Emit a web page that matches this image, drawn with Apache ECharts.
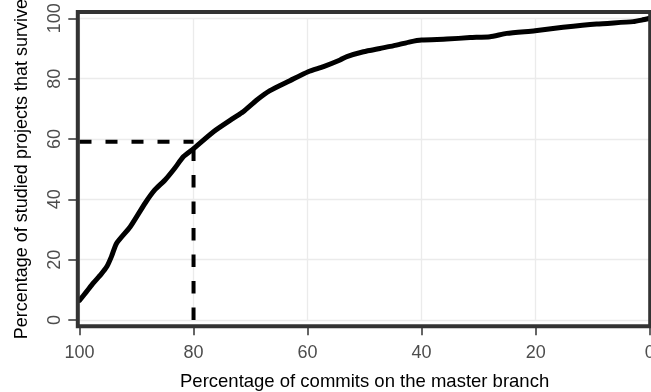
<!DOCTYPE html>
<html>
<head>
<meta charset="utf-8">
<script src="https://cdn.jsdelivr.net/npm/echarts@6/dist/echarts.min.js"></script>
<style>
html,body{margin:0;padding:0;background:#fff;}
#c{width:651px;height:392px;}
</style>
</head>
<body>
<div id="c"></div>
<script>
// Survival curve: x = percentage of commits on master, y = percentage of projects surviving
const commitPct = [100, 98.8, 97.6, 96.2, 95.2, 94.4, 93.5, 91.1, 88.5, 86.8, 85.0, 83.3, 81.8, 80.0, 76.5, 73.0, 71.3, 68.9, 66.6, 63.1, 59.9, 57.2, 54.3, 53.1, 50.2, 47.3, 44.4, 42.0, 40.0, 35.6, 31.5, 28.0, 25.1, 20.1, 15.2, 9.3, 2.9, 1.4, 0];
const survivePct = [6.5, 9.3, 12.2, 15.2, 17.7, 21.0, 25.4, 30.9, 38.7, 43.1, 46.4, 50.3, 54.1, 56.8, 62.4, 66.9, 69.0, 72.9, 76.0, 79.3, 82.3, 84.0, 86.2, 87.3, 88.9, 90.0, 91.1, 92.2, 92.8, 93.1, 93.6, 93.9, 95.0, 95.9, 97.0, 98.1, 98.9, 99.4, 100];
// Reference guide at 80% commits
const guideX = [100, 80];
const guideY = [59.1, 56.6];
const xTicks = [0, 20, 40, 60, 80, 100];
const yTicks = [0, 20, 40, 60, 80, 100];
const xTitle = 'Percentage of commits on the master branch';
const yTitle = 'Percentage of studied projects that survive';

const curve = commitPct.map((x, i) => [x, survivePct[i]]);
const hGuide = [[guideX[0], guideY[0]], [guideX[1], guideY[0]]];
const vGuide = [[guideX[1], 0], [guideX[1], guideY[1]]];

const font = '"Liberation Sans", Arial, Helvetica, sans-serif';
const chart = echarts.init(document.getElementById('c'), null, {renderer: 'canvas'});
chart.setOption({
  animation: false,
  backgroundColor: '#ffffff',
  grid: [
    {left: 79.5, right: 1.3, top: 18.3, bottom: 72, show: false, containLabel: false, outerBoundsMode: 'none'}
  ],
  graphic: [
    {type: 'rect', z: 10, silent: true,
     shape: {x: 77.8, y: 12, width: 572.4, height: 314.2},
     style: {fill: 'none', stroke: '#333333', lineWidth: 4}}
  ],
  xAxis: [
    {type: 'value', gridIndex: 0, inverse: true, min: xTicks[0], max: xTicks[xTicks.length - 1], interval: 20,
     offset: 6.2,
     name: xTitle, nameLocation: 'middle', nameGap: 46,
     nameTextStyle: {color: '#000', fontSize: 18.5, fontFamily: font},
     axisLine: {show: false, onZero: false},
     axisTick: {show: true, length: 9, lineStyle: {color: '#333333', width: 1.5}},
     axisLabel: {color: '#4D4D4D', fontSize: 18, fontFamily: font, margin: 18, hideOverlap: false},
     splitLine: {show: true, lineStyle: {color: '#EBEBEB', width: 1.3}}}
  ],
  yAxis: [
    {type: 'value', gridIndex: 0, min: yTicks[0], max: yTicks[yTicks.length - 1], interval: 20,
     offset: 1.7,
     name: yTitle, nameLocation: 'middle', nameGap: 47,
     nameTextStyle: {color: '#000', fontSize: 18, fontFamily: font},
     axisLine: {show: false, onZero: false},
     axisTick: {show: true, length: 9.5, lineStyle: {color: '#333333', width: 1.5}},
     axisLabel: {color: '#4D4D4D', fontSize: 18, fontFamily: font, rotate: 90, margin: 14},
     splitLine: {show: true, lineStyle: {color: '#EBEBEB', width: 1.3}}}
  ],
  series: [
    {type: 'line', xAxisIndex: 0, yAxisIndex: 0, data: curve, showSymbol: false, symbol: 'none', smooth: 0.2,
     lineStyle: {color: '#000', width: 5, join: 'round', cap: 'round'}, z: 3},
    {type: 'line', xAxisIndex: 0, yAxisIndex: 0, data: hGuide, symbol: 'none',
     lineStyle: {color: '#000', width: 4, type: [12, 14], cap: 'butt'}, z: 2},
    {type: 'line', xAxisIndex: 0, yAxisIndex: 0, data: vGuide, symbol: 'none',
     lineStyle: {color: '#000', width: 4, type: [12.5, 14], cap: 'butt'}, z: 2}
  ]
});
</script>
</body>
</html>
